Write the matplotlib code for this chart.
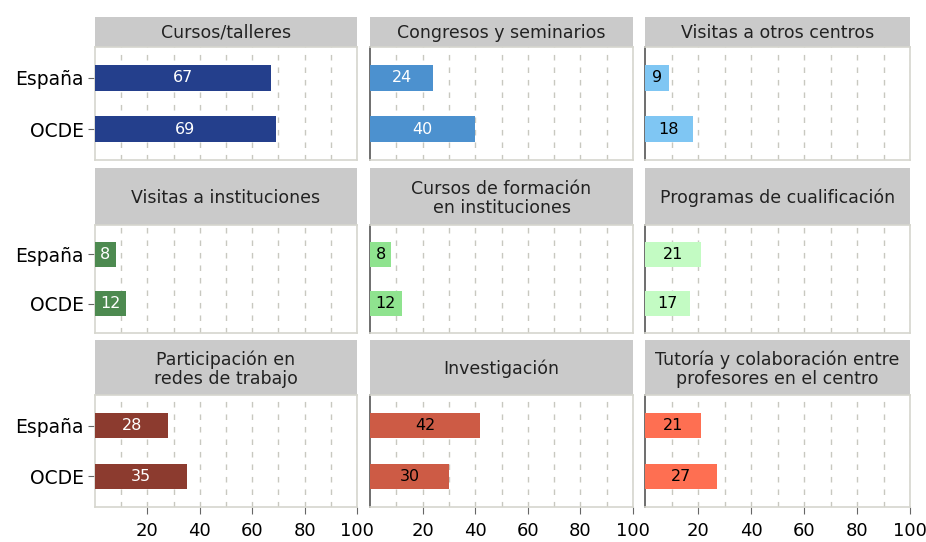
import numpy as np
import matplotlib.pyplot as plt

plt.rcParams['font.family'] = ['DejaVu Sans']

# datos
paneles = ['Cursos/talleres', 'Congresos y seminarios', 'Visitas a otros centros',
           'Visitas a instituciones', 'Cursos de formación\nen instituciones', 'Programas de cualificación',
           'Participación en\nredes de trabajo', 'Investigación', 'Tutoría y colaboración entre\nprofesores en el centro']
paises = ['España', 'OCDE']
espana = [67, 24, 9, 8, 8, 21, 28, 42, 21]
ocde = [69, 40, 18, 12, 12, 17, 35, 30, 27]
colores = ['#243f8c', '#4c91cf', '#7fc6f3',
           '#4d8a50', '#8fe38f', '#c3fbc3',
           '#8c3b2f', '#cd5b45', '#fe6f52']
color_texto = ['white', 'white', 'black',
               'white', 'black', 'black',
               'white', 'black', 'black']
ticks_x = [20, 40, 60, 80, 100]

W, H = 926, 542
fig = plt.figure(figsize=(W / 100, H / 100), dpi=100)

cols = [(95, 357), (370, 633), (645, 910)]
filas = [(17, 47, 160), (168, 225, 333), (340, 395, 507)]  # strip top, plot top, plot bottom
borde = '#d6d6ce'

for i in range(9):
    f, c = divmod(i, 3)
    x0, x1 = cols[c]
    s0, p0, p1 = filas[f]
    # strip
    sax = fig.add_axes([x0 / W, 1 - p0 / H, (x1 - x0) / W, (p0 - s0) / H])
    sax.set_facecolor('#cacaca')
    sax.set_xticks([])
    sax.set_yticks([])
    for sp in sax.spines.values():
        sp.set_visible(False)
    sax.text(0.5, 0.47, paneles[i], ha='center', va='center', fontsize=12.5,
             color='#222222', transform=sax.transAxes, linespacing=1.1)

    ax = fig.add_axes([x0 / W, 1 - p1 / H, (x1 - x0) / W, (p1 - p0) / H])
    vals = [espana[i], ocde[i]]
    y = np.arange(len(paises))
    ax.barh(y, vals, height=0.5, color=colores[i], zorder=3)
    for yy, v in zip(y, vals):
        ax.text(v / 2, yy, str(v), ha='center', va='center', fontsize=11.5,
                color=color_texto[i], zorder=4)
    ax.set_xlim(0, 100)
    ax.set_ylim(1.6, -0.6)
    for g in range(10, 101, 10):
        ax.axvline(g, color='#c8c8c0', lw=1, ls=(0, (4, 5)), zorder=1)
    for nombre, sp in ax.spines.items():
        sp.set_color(borde)
        sp.set_linewidth(1.2)
    if c > 0:
        ax.spines['left'].set_color('#555555')
    if c == 0:
        ax.set_yticks(y)
        ax.set_yticklabels(paises, fontsize=13.5)
        ax.tick_params(axis='y', length=5, color='#666666', pad=3)
    else:
        ax.set_yticks([])
    ax.set_xticks(ticks_x)
    if f == 2:
        ax.tick_params(axis='x', length=5, color='#666666', labelsize=13, pad=6)
    else:
        ax.tick_params(axis='x', length=0, labelbottom=False)

fig.savefig('out.png', dpi=100)
